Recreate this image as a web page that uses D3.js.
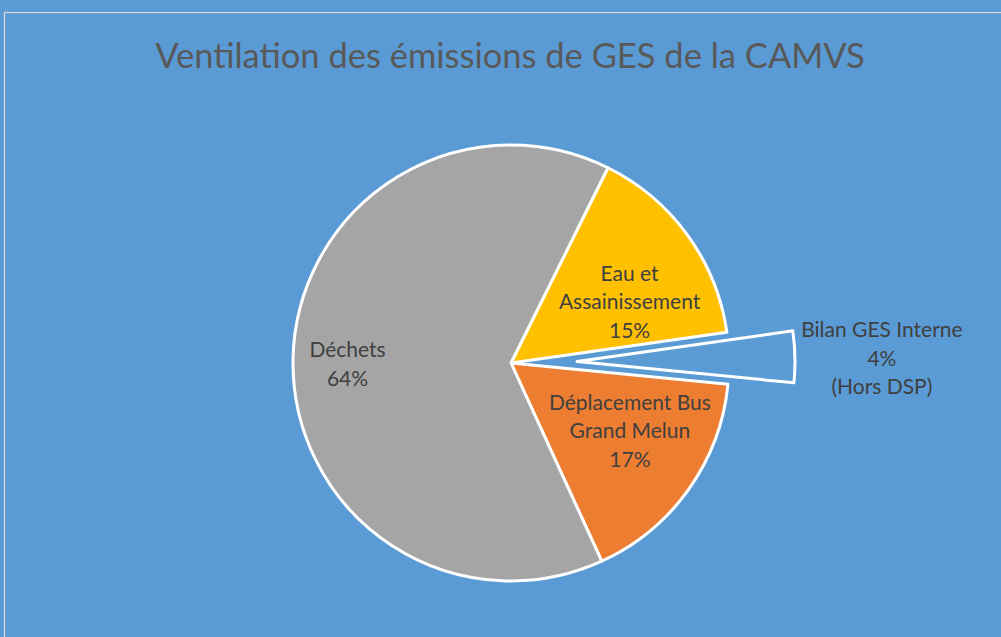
<!DOCTYPE html>
<html>
<head>
<meta charset="utf-8">
<script src="https://cdn.jsdelivr.net/npm/d3@7"></script>
<style>
  body { margin: 0; background: #5B9BD5; }
  svg { display: block; }
</style>
</head>
<body>
<script>
// categories and shares
var categories = ["Eau et Assainissement", "Bilan GES Interne", "Déplacement Bus Grand Melun", "Déchets"];
var values = [15.4, 3.8, 16.6, 64.1];
var labelLines = [
  ["Eau et", "Assainissement", "15%"],
  ["Bilan GES Interne", "4%", "(Hors DSP)"],
  ["Déplacement Bus", "Grand Melun", "17%"],
  ["Déchets", "64%"]
];
var colors = ["#FFC000", "#5B9BD5", "#ED7D31", "#A5A5A5"];
var exploded = [false, true, false, false];

const w = 1001, h = 637;
const bg = "#5B9BD5";
const cx = 511, cy = 363, R = 218;

const svg = d3.select("body").append("svg")
  .attr("width", w)
  .attr("height", h);

svg.append("rect").attr("width", w).attr("height", h).attr("fill", bg);

// chart area border
svg.append("rect")
  .attr("x", 4.5).attr("y", 12.5)
  .attr("width", w + 10).attr("height", h + 10)
  .attr("fill", "none")
  .attr("stroke", "#D9D9D9")
  .attr("stroke-width", 1.2);

svg.append("text")
  .attr("x", 510).attr("y", 68)
  .attr("text-anchor", "middle")
  .attr("font-family", "Lato, sans-serif")
  .attr("font-size", 34.5)
  .attr("fill", "#595959")
  .text("Ventilation des émissions de GES de la CAMVS");

const startDeg = 26.4;
const pie = d3.pie().sort(null)
  .startAngle(startDeg * Math.PI / 180)
  .endAngle((startDeg + 360) * Math.PI / 180);

const arcs = pie(values);
const arc = d3.arc().innerRadius(0).outerRadius(R);

const g = svg.append("g").attr("transform", "translate(" + cx + "," + cy + ")");

//slices
g.selectAll("path")
  .data(arcs)
  .enter()
  .append("path")
  .attr("d", arc)
  .attr("transform", (d, i) => {
    if (!exploded[i]) return null;
    var a = (d.startAngle + d.endAngle) / 2;
    return "translate(" + (66 * Math.sin(a)) + "," + (-66 * Math.cos(a)) + ")";
  })
  .attr("fill", (d, i) => colors[i])
  .attr("stroke", "#fff")
  .attr("stroke-width", 3)
  .attr("stroke-linejoin", "round");

// labels
arcs.forEach(function(d, i) {
  var a = (d.startAngle + d.endAngle) / 2;
  var r;
  if (exploded[i]) {
    r = 371;
  } else if (d.value > 50) {
    r = 0.75 * R;
  } else {
    // pull small-slice labels a bit toward the horizontal
    a = a + (Math.PI / 2 - a) * 0.2;
    r = 0.62 * R;
  }
  var x = r * Math.sin(a), y = -r * Math.cos(a);
  var lines = labelLines[i];
  var lh = 28.5;
  var t = g.append("text")
    .attr("text-anchor", "middle")
    .attr("font-family", "Lato, sans-serif")
    .attr("font-size", 21)
    .attr("fill", "#404040");
  lines.forEach(function(s, k) {
    t.append("tspan")
      .attr("x", x)
      .attr("y", y + (k - (lines.length - 1) / 2) * lh + 11)
      .text(s);
  });
});
</script>
</body>
</html>
